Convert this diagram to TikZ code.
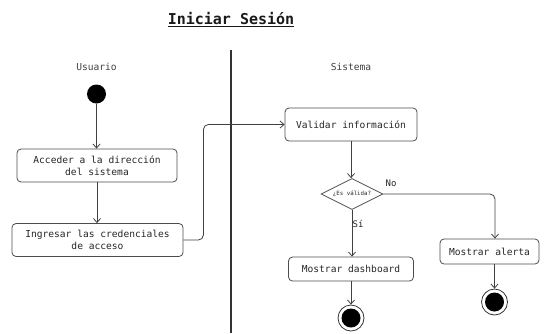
\documentclass[tikz,border=0pt]{standalone}
\usepackage{fontspec}
\setmonofont{DejaVu Sans Mono}
\usetikzlibrary{shapes.geometric,arrows.meta}
\begin{document}
\begin{tikzpicture}[x=1pt,y=-1pt,
  every node/.style={font=\ttfamily\fontsize{9.6}{12}\selectfont, text=black!85},
  act/.style={draw=black!70, rounded corners=4pt, line width=0.8pt, inner sep=0pt, align=center},
  flow/.style={draw=black!75, line width=0.8pt, -{Straight Barb[length=4pt,width=7pt]}},
  decision/.style={draw=black!70, line width=0.8pt, shape=diamond, inner sep=0pt, aspect=2,
    minimum width=62pt, minimum height=31pt, font=\ttfamily\fontsize{5.8}{7}\selectfont},
  lane/.style={text=black!75},
]
\useasboundingbox (0,0) rectangle (545,333);

% title
\node[font=\ttfamily\bfseries\fontsize{15}{18}\selectfont, text=black!90] (title) at (231,20) {\underline{Iniciar Sesión}};

% swimlane separator and lane names
\coordinate (laneTop) at (231,50);
\coordinate (laneBot) at (231,333);
\draw[line width=1.5pt, black!80] (laneTop) -- (laneBot);
\node[lane] (usuario) at (96.5,67) {Usuario};
\node[lane] (sistema) at (351,67) {Sistema};

% user lane
\node[circle, fill=black, inner sep=0pt, minimum size=19pt] (start) at (96.5,94) {};
\node[act, minimum width=160pt, minimum height=33pt] (acceder) at (97,165.5) {Acceder a la dirección\\del sistema};
\node[act, minimum width=171pt, minimum height=33pt] (ingresar) at (97.5,240) {Ingresar las credenciales\\de acceso};

% system lane
\node[act, minimum width=132pt, minimum height=33pt] (validar) at (351,124.5) {Validar información};
\node[decision] (valida) at (352,194) {¿Es válida?};
\node[act, minimum width=125pt, minimum height=24pt] (dashboard) at (351,269) {Mostrar dashboard};
\node[act, minimum width=99pt, minimum height=25pt] (alerta) at (489.5,251.5) {Mostrar alerta};

% final states
\node[circle, draw=black!80, line width=0.8pt, fill=white, inner sep=0pt, minimum size=26pt] (fin1) at (351,318) {};
\node[circle, fill=black, inner sep=0pt, minimum size=19pt] at (fin1.center) {};
\node[circle, draw=black!80, line width=0.8pt, fill=white, inner sep=0pt, minimum size=26pt] (fin2) at (494.5,302) {};
\node[circle, fill=black, inner sep=0pt, minimum size=19pt] at (fin2.center) {};

% flows
\draw[flow] (start.south) -- (start.south |- acceder.north);
\draw[flow] (acceder.south) -- (acceder.south |- ingresar.north);
\draw[flow, rounded corners=5pt] (ingresar.east) -- ++(20,0) |- (validar.west);
\draw[flow] (validar.south) -- (validar.south |- valida.north);
\draw[flow, rounded corners=5pt] (valida.east) -| ([xshift=5.5pt]alerta.north);
\draw[flow] (valida.south) -- (valida.south |- dashboard.north);
\draw[flow] (dashboard.south) -- (fin1.north);
\draw[flow] ([xshift=5pt]alerta.south) -- (fin2.north);

% guard labels
\node[font=\ttfamily\fontsize{9}{11}\selectfont] (no) at (391,183) {No};
\node[font=\ttfamily\fontsize{9}{11}\selectfont] (si) at (358,224) {Sí};
\end{tikzpicture}
\end{document}
